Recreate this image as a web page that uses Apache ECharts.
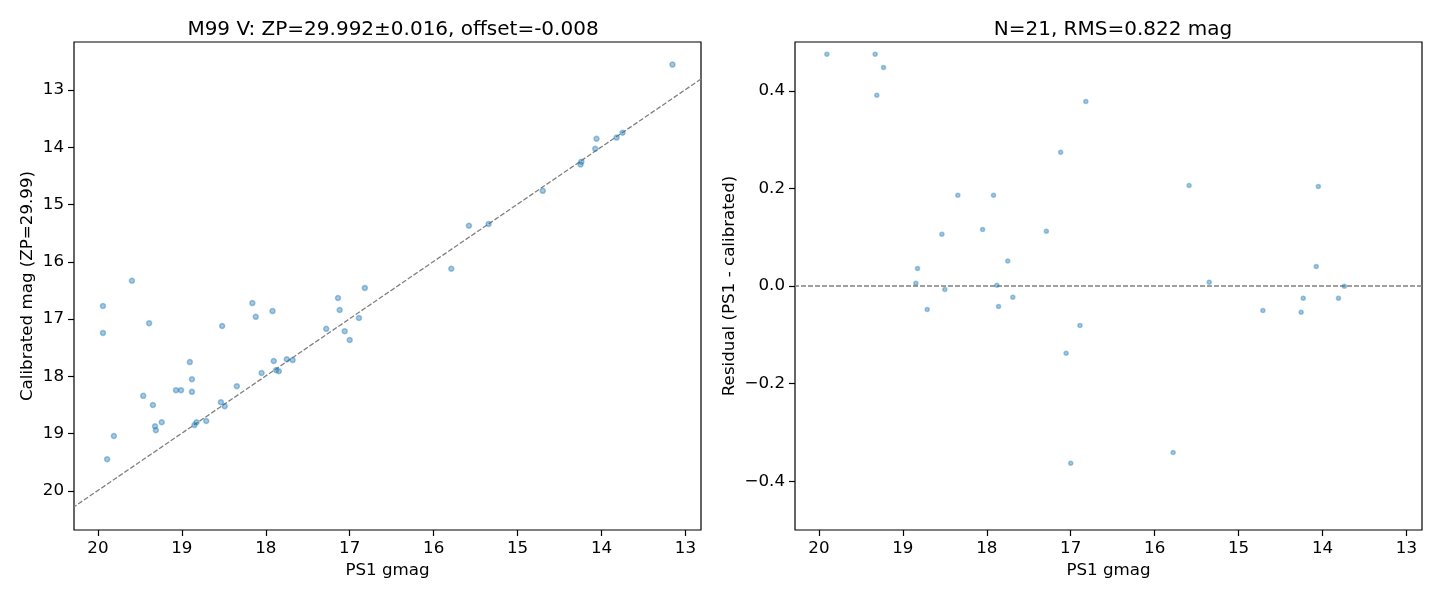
<!DOCTYPE html>
<html>
<head>
<meta charset="utf-8">
<script src="https://cdn.jsdelivr.net/npm/echarts@6/dist/echarts.min.js"></script>
<style>
html,body{margin:0;padding:0;background:#fff;}
#c{width:1440px;height:600px;}
</style>
</head>
<body>
<div id="c"></div>
<script>
// ---- data ----
const titleLeft = 'M99 V: ZP=29.992\u00b10.016, offset=-0.008';
const titleRight = 'N=21, RMS=0.822 mag';
const offset = -0.008;

const gmagLeft = [19.94,19.94,19.595,19.39,19.46,19.345,19.32,19.31,19.24,19.81,19.89,19.07,19.01,18.905,18.88,18.88,18.85,18.825,18.71,18.52,18.535,18.49,18.345,18.16,18.12,17.92,18.05,17.905,17.876,17.845,17.75,17.68,17.28,17.14,17.12,17.06,17.0,16.89,16.82,13.155,14.06,14.075,13.82,13.75,14.24,14.25,14.70,15.58,15.345,15.79];
const calibLeft = [16.77,17.24,16.33,17.07,18.34,18.50,18.87,18.94,18.80,19.04,19.445,18.24,18.24,17.75,18.05,18.27,18.85,18.80,18.78,17.12,18.45,18.52,18.17,16.72,16.96,16.86,17.94,17.73,17.89,17.91,17.70,17.715,17.17,16.63,16.84,17.21,17.365,16.98,16.455,12.556,13.85,14.025,13.83,13.745,14.25,14.30,14.76,15.37,15.34,16.12];

const gmagRight = [19.905,19.33,19.23,19.31,16.82,17.12,18.345,17.92,18.535,18.05,17.29,18.825,17.75,18.845,18.5,17.88,17.69,18.71,17.86,16.89,15.59,14.05,17.055,17.0,15.78,15.35,14.71,14.23,14.255,14.075,13.81,13.74];
const residRight = [0.475,0.475,0.448,0.391,0.378,0.274,0.186,0.186,0.106,0.116,0.112,0.036,0.051,0.0055,-0.007,0.0014,-0.023,-0.048,-0.042,-0.081,0.206,0.204,-0.138,-0.363,-0.341,0.0076,-0.050,-0.025,-0.054,0.040,-0.025,-0.0006];

const xTicks = [13,14,15,16,17,18,19,20];
const yTicksLeft = [13,14,15,16,17,18,19,20];
const yTicksRight = [-0.4,-0.2,0,0.2,0.4];

const xRange = [12.815, 20.285];
const yRangeLeft = [12.161, 20.682];
const yRangeRight = [-0.5, 0.5];

// ---- chart ----
const FONT = 'DejaVu Sans';
const ptColor = 'rgba(31,119,180,0.5)';
const zip = (a, b) => a.map((v, i) => [v, b[i]]);
const fmtMinus = v => String(v).replace('-', '\u2212');
const LBL = 16.7;

function xAxisDef(gi) {
  return {
    type: 'value', gridIndex: gi, inverse: true,
    min: xRange[0], max: xRange[1],
    name: 'PS1 gmag', nameLocation: 'middle', nameGap: 31,
    nameTextStyle: { fontFamily: FONT, fontSize: LBL, color: '#000' },
    axisLine: { show: false, onZero: false },
    splitLine: { show: false },
    axisTick: { show: true, length: 6, lineStyle: { color: '#000', width: 1.2 }, customValues: xTicks },
    axisLabel: { show: true, margin: 10, fontFamily: FONT, fontSize: LBL, color: '#000', customValues: xTicks }
  };
}

const option = {
  backgroundColor: '#fff',
  animation: false,
  title: [
    { text: titleLeft, left: 388, top: 15, textAlign: 'center',
      textStyle: { fontFamily: FONT, fontSize: 20, fontWeight: 'normal', color: '#000' } },
    { text: titleRight, left: 1108, top: 15, textAlign: 'center',
      textStyle: { fontFamily: FONT, fontSize: 20, fontWeight: 'normal', color: '#000' } }
  ],
  grid: [
    { left: 74, top: 42, width: 627, height: 488, show: true, borderColor: '#000', borderWidth: 1.2, backgroundColor: 'transparent' },
    { left: 795, top: 42, width: 627, height: 488, show: true, borderColor: '#000', borderWidth: 1.2, backgroundColor: 'transparent' }
  ],
  xAxis: [xAxisDef(0), xAxisDef(1)],
  yAxis: [
    {
      type: 'value', gridIndex: 0, inverse: true,
      min: yRangeLeft[0], max: yRangeLeft[1],
      name: 'Calibrated mag (ZP=29.99)', nameLocation: 'middle', nameGap: 38,
      nameTextStyle: { fontFamily: FONT, fontSize: LBL, color: '#000' },
      axisLine: { show: false, onZero: false }, splitLine: { show: false },
      axisTick: { show: true, length: 6, lineStyle: { color: '#000', width: 1.2 }, customValues: yTicksLeft },
      axisLabel: { show: true, margin: 10, fontFamily: FONT, fontSize: LBL, color: '#000', customValues: yTicksLeft }
    },
    {
      type: 'value', gridIndex: 1,
      min: yRangeRight[0], max: yRangeRight[1],
      name: 'Residual (PS1 - calibrated)', nameLocation: 'middle', nameGap: 57,
      nameTextStyle: { fontFamily: FONT, fontSize: LBL, color: '#000' },
      axisLine: { show: false, onZero: false }, splitLine: { show: false },
      axisTick: { show: true, length: 6, lineStyle: { color: '#000', width: 1.2 }, customValues: yTicksRight },
      axisLabel: { show: true, margin: 10, fontFamily: FONT, fontSize: LBL, color: '#000', customValues: yTicksRight,
        formatter: v => fmtMinus(Number(v).toFixed(1)) }
    }
  ],
  series: [
    {
      type: 'line', xAxisIndex: 0, yAxisIndex: 0, showSymbol: false, silent: true,
      data: xRange.map(x => [x, x + offset]),
      lineStyle: { color: '#808080', width: 1.3, type: [5, 2] }, z: 1
    },
    {
      type: 'scatter', xAxisIndex: 0, yAxisIndex: 0,
      data: zip(gmagLeft, calibLeft), symbolSize: 5,
      itemStyle: { color: ptColor, borderColor: ptColor, borderWidth: 1.5 }, z: 2
    },
    {
      type: 'line', xAxisIndex: 1, yAxisIndex: 1, showSymbol: false, silent: true,
      data: xRange.map(x => [x, 0]),
      lineStyle: { color: '#808080', width: 1.3, type: [5, 2] }, z: 1
    },
    {
      type: 'scatter', xAxisIndex: 1, yAxisIndex: 1,
      data: zip(gmagRight, residRight), symbolSize: 4,
      itemStyle: { color: ptColor, borderColor: ptColor, borderWidth: 1.5 }, z: 2
    }
  ]
};

const chart = echarts.init(document.getElementById('c'), null, { renderer: 'canvas' });
chart.setOption(option);
</script>
</body>
</html>
